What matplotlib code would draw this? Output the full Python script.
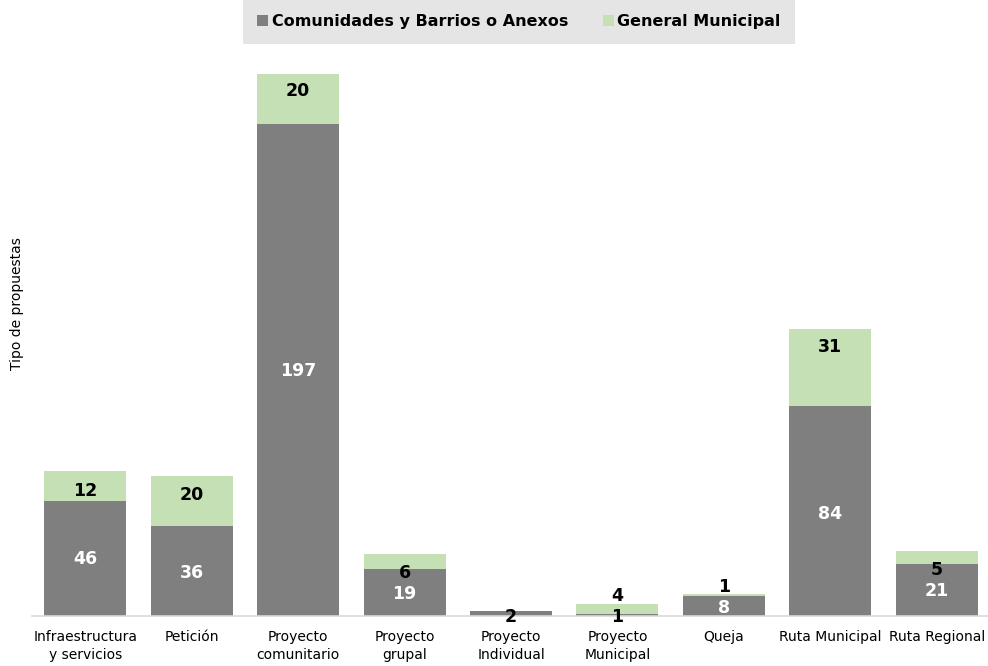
import matplotlib
matplotlib.use("Agg")
import matplotlib.pyplot as plt
import numpy as np

plt.rcParams["font.family"] = ["DejaVu Sans"]

categories = ["Infraestructura\ny servicios", "Petición", "Proyecto\ncomunitario",
              "Proyecto\ngrupal", "Proyecto\nIndividual", "Proyecto\nMunicipal",
              "Queja", "Ruta Municipal", "Ruta Regional"]
comunidades = [46, 36, 197, 19, 2, 1, 8, 84, 21]
general = [12, 20, 20, 6, 0, 4, 1, 31, 5]
series_names = ["Comunidades y Barrios o Anexos", "General Municipal"]

# label nudges (pixels, positive = downward) relative to the segment centre
grey_nudge_px = [1, 2, 1, 1.5, 3, 2.5, 2, 3, 1]
green_nudge_px = [5, -6, -7, 12, 0, -12.5, -8, -20, 13]

c_grey = "#7F7F7F"
c_green = "#C5E0B4"

fig = plt.figure(figsize=(9.88, 6.66), dpi=100)
ax = fig.add_axes([32/988, 50/666, 958/988, 600/666])
x = np.arange(len(categories))
w = 0.77
b1 = ax.bar(x, comunidades, w, color=c_grey, label=series_names[0])
b2 = ax.bar(x, general, w, bottom=comunidades, color=c_green, label=series_names[1])

ax.set_xlim(-0.5, len(categories) - 0.5)
ax.set_ylim(0, 240)
for s in ["top", "right", "left"]:
    ax.spines[s].set_visible(False)
ax.spines["bottom"].set_color("#D9D9D9")
ax.spines["bottom"].set_linewidth(1.2)
ax.set_yticks([])
ax.set_xticks(x)
ax.set_xticklabels(categories, fontsize=10, linespacing=1.4)
ax.tick_params(axis="x", length=0, pad=10)
ax.set_ylabel("Tipo de propuestas", fontsize=10)
ax.yaxis.set_label_coords(-0.008, 0.52)

fs = 12.5
px2pt = 0.72
for i, (c, g) in enumerate(zip(comunidades, general)):
    if c > 0:
        col = "white" if c >= 5 else "black"
        ax.annotate(str(c), (i, c / 2), xytext=(0, -grey_nudge_px[i] * px2pt),
                    textcoords="offset points", ha="center", va="center",
                    color=col, fontsize=fs, fontweight="bold")
    if g > 0:
        ax.annotate(str(g), (i, c + g / 2), xytext=(0, -green_nudge_px[i] * px2pt),
                    textcoords="offset points", ha="center", va="center",
                    color="black", fontsize=fs, fontweight="bold")

leg = fig.legend(handles=[b1, b2], loc="upper center", bbox_to_anchor=(519/988, 1.0),
                 ncol=2, frameon=True, fancybox=False, facecolor="#E5E5E5",
                 edgecolor="#E5E5E5", framealpha=1,
                 prop={"weight": "bold", "size": 11.5}, handlelength=0.7, handleheight=0.7,
                 handletextpad=0.2, columnspacing=2.2, borderpad=0.9, borderaxespad=0)
leg.get_frame().set_linewidth(0)

fig.savefig("out.png", dpi=100)
